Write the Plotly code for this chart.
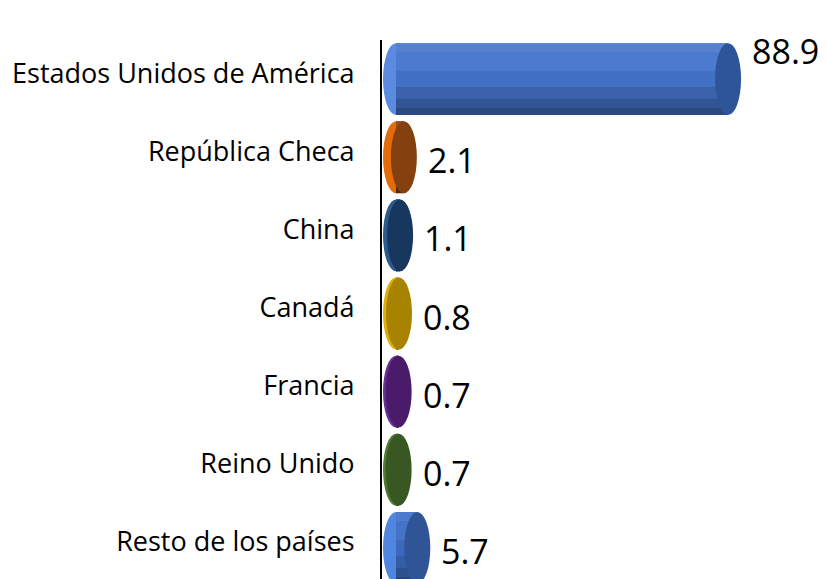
import plotly.graph_objects as go

categories = ["Estados Unidos de América", "República Checa", "China", "Canadá",
              "Francia", "Reino Unido", "Resto de los países"]
values = [88.9, 2.1, 1.1, 0.8, 0.7, 0.7, 5.7]
value_labels = ["88.9", "2.1", "1.1", "0.8", "0.7", "0.7", "5.7"]

body_colors = ["#4676CC", "#8B400E", "#1B3E66", "#A88300", "#4A1C6C", "#3A5A24", "#3F6FC6"]
light_colors = ["#5B8BE0", "#E36C09", "#2A5A8E", "#E0B000", "#6A2F95", "#4E7A30", "#4F86E0"]
cap_colors = ["#2E5597", "#84400E", "#17375E", "#A88300", "#4A1B6B", "#385723", "#2F5597"]


def blend(hex_color, target, f):
    r, g, b = (int(hex_color[k:k + 2], 16) for k in (1, 3, 5))
    t = 255 if target == "white" else 0
    r, g, b = (round(c + (t - c) * f) for c in (r, g, b))
    return f"#{r:02x}{g:02x}{b:02x}"


x_min, x_max = -3.75, 93.7
cap_hw = 3.48      # half-width of the elliptical caps, in value units
bar_h = 0.92

fig = go.Figure()
idx = list(range(len(categories)))

# base body (fills any anti-aliasing gaps between the shading bands)
fig.add_trace(go.Bar(y=idx, x=values, orientation="h", width=bar_h,
                     marker=dict(color=body_colors, line=dict(width=0)),
                     hoverinfo="skip", showlegend=False))

# cylinder body shading bands (top light -> bottom dark)
bands = [(-0.46, 0.12, "white", 0.08), (-0.34, 0.24, "white", 0.03), (-0.10, 0.20, "black", 0.05),
         (0.10, 0.15, "black", 0.16), (0.25, 0.12, "black", 0.28), (0.37, 0.09, "black", 0.38)]
for off, w, tgt, f in bands:
    fig.add_trace(go.Bar(y=idx, x=values, orientation="h", width=w, offset=off,
                         marker=dict(color=[blend(c, tgt, f) for c in body_colors], line=dict(width=0)),
                         hoverinfo="skip", showlegend=False))

shapes = []
annotations = []
for i, v in enumerate(values):
    shapes.append(dict(type="circle", xref="x", yref="y", layer="below",
                       x0=-cap_hw, x1=cap_hw, y0=i - bar_h / 2, y1=i + bar_h / 2,
                       fillcolor=light_colors[i], line=dict(width=0)))
    shapes.append(dict(type="circle", xref="x", yref="y", layer="above",
                       x0=v - cap_hw, x1=v + cap_hw, y0=i - bar_h / 2, y1=i + bar_h / 2,
                       fillcolor=cap_colors[i], line=dict(width=0)))
    annotations.append(dict(x=v + cap_hw, y=i, xref="x", yref="y", text=value_labels[i],
                            showarrow=False, xanchor="left", yanchor="middle", xshift=9,
                            yshift=-3 if i > 0 else 28,
                            font=dict(family="Open Sans", size=34, color="black")))

fig.update_layout(
    width=827, height=579,
    margin=dict(l=374, r=89, t=32, b=0),
    paper_bgcolor="white", plot_bgcolor="white",
    barmode="overlay",
    shapes=shapes, annotations=annotations,
    xaxis=dict(range=[x_min, x_max], visible=False, showgrid=False, zeroline=False),
    yaxis=dict(range=[6.5, -0.5], tickmode="array", tickvals=idx, ticktext=categories,
               showgrid=False, zeroline=False, showline=True, linecolor="black", linewidth=2,
               ticks="", ticklabelstandoff=20, ticklabelshift=6, automargin=False,
               tickfont=dict(family="Open Sans", size=27, color="black")),
)

fig.write_html("out.html")
